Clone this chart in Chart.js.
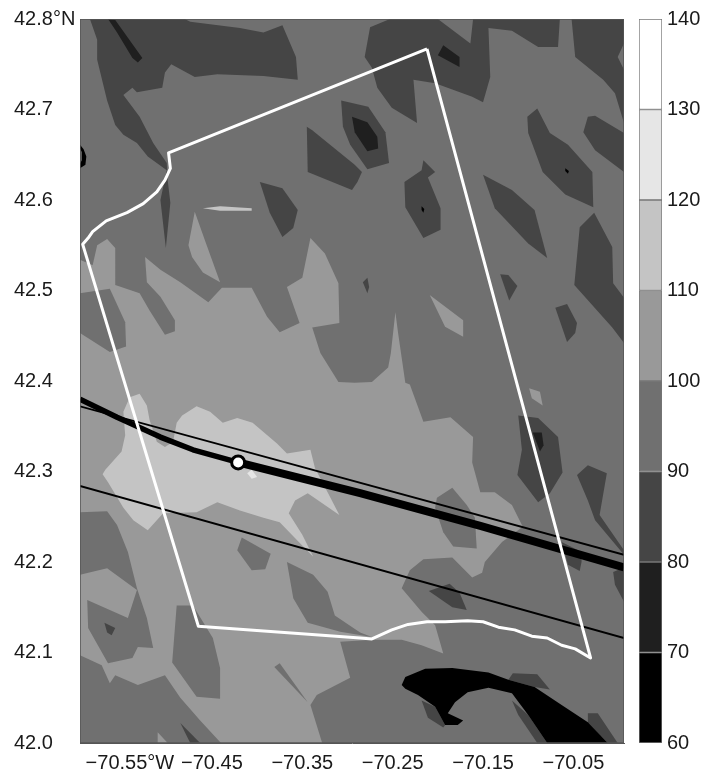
<!DOCTYPE html>
<html>
<head>
<meta charset="utf-8">
<title>Contour map</title>
<script src="https://cdn.jsdelivr.net/npm/chart.js@4/dist/chart.umd.min.js"></script>
<style>
  body { margin: 0; background: #fff; }
  canvas { position: absolute; top: 0; }
  #mapChart { left: 0; }
  #barChart { left: 630px; }
</style>
</head>
<body>
<canvas id="mapChart" width="630" height="771"></canvas>
<canvas id="barChart" width="85" height="771"></canvas>
<script>
// ================= AXES =================
const lonMin = -70.596, lonMax = -69.994;
const latMin = 42.0, latMax = 42.8;
const lonTicks = [-70.55, -70.45, -70.35, -70.25, -70.15, -70.05];
const lonLabels = ["\u00A0\u00A0\u00A0−70.55°W", "−70.45", "−70.35", "−70.25", "−70.15", "−70.05"];
const latTicks = [42.0, 42.1, 42.2, 42.3, 42.4, 42.5, 42.6, 42.7, 42.8];
const latLabels = ["42.0", "42.1", "42.2", "42.3", "42.4", "42.5", "42.6", "42.7", "42.8°N"];

// ================= COLOUR BAR =================
const levels = [60, 70, 80, 90, 100, 110, 120, 130, 140];
const shades = ["#000000", "#1f1f1f", "#454545", "#707070", "#999999", "#c4c4c4", "#e6e6e6", "#ffffff"];

// ================= CONTOUR BANDS (lon, lat) =================
// 100-110
const light100Main = [[-70.596,42.534],[-70.582,42.528],[-70.577,42.550],[-70.566,42.557],[-70.557,42.547],[-70.557,42.506],[-70.530,42.497],[-70.519,42.478],[-70.502,42.451],[-70.491,42.455],[-70.491,42.467],[-70.507,42.493],[-70.522,42.509],[-70.524,42.537],[-70.507,42.523],[-70.485,42.509],[-70.454,42.487],[-70.439,42.503],[-70.406,42.503],[-70.389,42.471],[-70.375,42.454],[-70.353,42.464],[-70.367,42.504],[-70.350,42.514],[-70.341,42.558],[-70.325,42.541],[-70.310,42.508],[-70.309,42.464],[-70.339,42.459],[-70.330,42.431],[-70.310,42.399],[-70.292,42.398],[-70.273,42.399],[-70.255,42.415],[-70.252,42.431],[-70.247,42.476],[-70.244,42.453],[-70.236,42.398],[-70.231,42.396],[-70.216,42.355],[-70.186,42.360],[-70.161,42.338],[-70.162,42.310],[-70.153,42.277],[-70.137,42.277],[-70.118,42.263],[-70.106,42.239],[-70.129,42.222],[-70.148,42.200],[-70.151,42.188],[-70.162,42.183],[-70.184,42.205],[-70.216,42.203],[-70.231,42.191],[-70.240,42.171],[-70.218,42.145],[-70.203,42.130],[-70.194,42.099],[-70.218,42.108],[-70.240,42.114],[-70.273,42.114],[-70.308,42.112],[-70.297,42.072],[-70.334,42.053],[-70.341,42.042],[-70.328,42.000],[-70.440,42.000],[-70.463,42.025],[-70.485,42.050],[-70.502,42.075],[-70.532,42.064],[-70.557,42.075],[-70.563,42.066],[-70.572,42.086],[-70.596,42.097]];
const light100Wedge = [[-70.469,42.587],[-70.458,42.556],[-70.441,42.509],[-70.460,42.520],[-70.472,42.537],[-70.476,42.550]];
const light100East = [[-70.209,42.495],[-70.172,42.467],[-70.172,42.449],[-70.192,42.460]];
const light100Small = [[-70.099,42.392],[-70.087,42.388],[-70.084,42.373],[-70.096,42.381]];
const light100Bottom = [[-70.510,42.012],[-70.499,42.000],[-70.510,42.000]];

// 90-100 islands sitting on the 100-110 area
const gray90West = [[-70.596,42.497],[-70.563,42.502],[-70.546,42.465],[-70.545,42.438],[-70.563,42.432],[-70.596,42.453]];
const gray90SouthWest = [[-70.596,42.255],[-70.566,42.256],[-70.555,42.241],[-70.543,42.211],[-70.533,42.171],[-70.522,42.138],[-70.515,42.105],[-70.532,42.106],[-70.538,42.094],[-70.565,42.088],[-70.587,42.127],[-70.588,42.158],[-70.543,42.138],[-70.533,42.169],[-70.566,42.193],[-70.596,42.186]];
const gray90South = [[-70.489,42.152],[-70.471,42.152],[-70.449,42.116],[-70.441,42.083],[-70.441,42.049],[-70.467,42.051],[-70.494,42.089]];
const gray90Small = [[-70.422,42.213],[-70.417,42.227],[-70.385,42.209],[-70.391,42.192],[-70.406,42.191]];
const gray90Long = [[-70.367,42.200],[-70.338,42.186],[-70.322,42.167],[-70.314,42.141],[-70.286,42.122],[-70.273,42.117],[-70.308,42.123],[-70.344,42.133],[-70.360,42.160]];
const gray90Sliver = [[-70.381,42.084],[-70.375,42.088],[-70.344,42.045]];
const gray90East = [[-70.201,42.271],[-70.184,42.282],[-70.168,42.263],[-70.159,42.249],[-70.157,42.215],[-70.183,42.217],[-70.194,42.233],[-70.203,42.260]];

// 110-120
const light110Main = [[-70.548,42.366],[-70.541,42.382],[-70.530,42.386],[-70.522,42.373],[-70.519,42.357],[-70.511,42.333],[-70.502,42.327],[-70.493,42.333],[-70.489,42.354],[-70.483,42.362],[-70.467,42.372],[-70.452,42.366],[-70.438,42.354],[-70.422,42.359],[-70.405,42.354],[-70.378,42.331],[-70.367,42.320],[-70.341,42.324],[-70.336,42.304],[-70.322,42.277],[-70.309,42.252],[-70.344,42.276],[-70.358,42.268],[-70.365,42.254],[-70.350,42.230],[-70.338,42.206],[-70.349,42.217],[-70.375,42.244],[-70.393,42.249],[-70.419,42.257],[-70.444,42.266],[-70.467,42.255],[-70.504,42.254],[-70.521,42.235],[-70.537,42.246],[-70.548,42.260],[-70.565,42.288],[-70.571,42.297],[-70.568,42.302],[-70.550,42.322],[-70.546,42.340]];
const light110Streak = [[-70.460,42.591],[-70.441,42.593],[-70.406,42.591],[-70.406,42.588],[-70.441,42.588]];
// 120-130
const light120Patch = [[-70.411,42.298],[-70.406,42.302],[-70.400,42.294],[-70.406,42.292]];

// 80-90
const dark80NorthWest = [[-70.585,42.800],[-70.577,42.777],[-70.577,42.755],[-70.566,42.710],[-70.557,42.683],[-70.548,42.672],[-70.533,42.663],[-70.521,42.648],[-70.500,42.633],[-70.507,42.600],[-70.501,42.547],[-70.496,42.597],[-70.499,42.622],[-70.500,42.641],[-70.515,42.663],[-70.530,42.692],[-70.548,42.716],[-70.538,42.724],[-70.533,42.719],[-70.505,42.724],[-70.502,42.741],[-70.495,42.750],[-70.469,42.736],[-70.444,42.739],[-70.393,42.737],[-70.355,42.733],[-70.357,42.758],[-70.372,42.793],[-70.393,42.785],[-70.419,42.790],[-70.474,42.797],[-70.480,42.800]];
const dark80A = [[-70.345,42.681],[-70.339,42.677],[-70.292,42.639],[-70.284,42.631],[-70.289,42.620],[-70.295,42.611],[-70.344,42.631]];
const dark80B = [[-70.397,42.620],[-70.372,42.613],[-70.355,42.589],[-70.360,42.569],[-70.372,42.559],[-70.386,42.586]];
const dark80C = [[-70.307,42.710],[-70.277,42.703],[-70.258,42.675],[-70.254,42.641],[-70.278,42.634],[-70.297,42.661],[-70.305,42.681]];
const dark80North = [[-70.281,42.758],[-70.275,42.791],[-70.253,42.800],[-70.200,42.800],[-70.164,42.773],[-70.161,42.800],[-70.065,42.800],[-70.067,42.769],[-70.089,42.769],[-70.118,42.787],[-70.144,42.790],[-70.142,42.736],[-70.150,42.708],[-70.162,42.714],[-70.184,42.722],[-70.203,42.729],[-70.227,42.733],[-70.223,42.685],[-70.251,42.702],[-70.267,42.724],[-70.273,42.746]];
const dark80NorthEast = [[-70.052,42.800],[-69.994,42.800],[-69.994,42.685],[-70.004,42.718],[-70.017,42.733],[-70.048,42.758]];
const dark80D = [[-70.101,42.692],[-70.090,42.701],[-70.076,42.674],[-70.056,42.661],[-70.029,42.631],[-70.028,42.592],[-70.059,42.606],[-70.084,42.631],[-70.100,42.674]];
const dark80E = [[-70.039,42.675],[-70.034,42.692],[-70.026,42.693],[-69.994,42.674],[-69.994,42.631],[-70.026,42.655]];
const dark80F = [[-70.150,42.628],[-70.118,42.611],[-70.093,42.589],[-70.079,42.536],[-70.100,42.552],[-70.137,42.591]];
const dark80G = [[-70.237,42.620],[-70.218,42.633],[-70.216,42.644],[-70.203,42.631],[-70.211,42.625],[-70.197,42.591],[-70.197,42.567],[-70.216,42.558],[-70.236,42.592]];
const dark80H = [[-70.043,42.570],[-70.027,42.586],[-70.007,42.548],[-70.006,42.508],[-69.994,42.492],[-69.994,42.442],[-70.007,42.459],[-70.049,42.506]];
const dark80I = [[-70.131,42.518],[-70.122,42.517],[-70.112,42.505],[-70.121,42.489]];
const dark80J = [[-70.070,42.481],[-70.057,42.485],[-70.046,42.464],[-70.048,42.453],[-70.057,42.443]];
const dark80K = [[-70.283,42.509],[-70.278,42.514],[-70.276,42.504],[-70.278,42.497]];
const dark80L = [[-70.111,42.362],[-70.089,42.359],[-70.067,42.338],[-70.062,42.299],[-70.076,42.276],[-70.089,42.266],[-70.112,42.296],[-70.107,42.324]];
const dark80M = [[-70.046,42.296],[-70.034,42.307],[-70.013,42.298],[-70.021,42.252],[-69.994,42.213],[-69.994,42.208],[-70.026,42.246],[-70.034,42.268]];
const dark80N = [[-70.006,42.189],[-69.994,42.194],[-69.994,42.156],[-70.004,42.175]];
const dark80O = [[-70.063,42.222],[-70.041,42.211],[-70.041,42.200],[-70.043,42.190],[-70.056,42.197]];
const dark80SouthA = [[-70.569,42.133],[-70.557,42.127],[-70.561,42.119],[-70.566,42.122]];
const dark80SouthB = [[-70.485,42.022],[-70.463,42.000],[-70.474,42.000]];
const dark80SouthC = [[-70.210,42.168],[-70.187,42.176],[-70.176,42.166],[-70.168,42.147],[-70.184,42.150]];
const dark80BlobA = [[-70.117,42.077],[-70.090,42.076],[-70.076,42.059],[-70.093,42.062],[-70.122,42.070]];
const dark80BlobB = [[-70.118,42.047],[-70.100,42.031],[-70.079,42.000],[-70.090,42.000],[-70.111,42.031]];
const dark80BlobC = [[-70.034,42.033],[-70.023,42.033],[-70.001,42.000],[-70.012,42.000],[-70.034,42.023]];
const dark80BlobD = [[-70.218,42.047],[-70.203,42.040],[-70.192,42.020],[-70.194,42.017],[-70.211,42.028]];

// notch of 90-100 at the east edge
const gray90Notch = [[-70.001,42.758],[-69.994,42.773],[-69.994,42.744]];

// 70-80
const dark70Streak = [[-70.565,42.800],[-70.557,42.799],[-70.527,42.757],[-70.532,42.752],[-70.538,42.757],[-70.555,42.785]];
const dark70C = [[-70.295,42.692],[-70.278,42.686],[-70.267,42.670],[-70.266,42.657],[-70.278,42.654],[-70.292,42.675]];
const dark70North = [[-70.200,42.760],[-70.194,42.771],[-70.176,42.758],[-70.176,42.747]];
const dark70L = [[-70.095,42.343],[-70.085,42.343],[-70.083,42.329],[-70.087,42.322]];

// 60-70
const black60Edge = [[-70.596,42.661],[-70.592,42.656],[-70.589,42.648],[-70.590,42.639],[-70.596,42.635],[-70.596,42.640],[-70.594,42.644],[-70.594,42.653],[-70.596,42.657]];
const black60Blob = [[-70.240,42.064],[-70.236,42.073],[-70.214,42.082],[-70.184,42.083],[-70.144,42.078],[-70.122,42.070],[-70.093,42.062],[-70.063,42.042],[-70.034,42.023],[-70.012,42.000],[-70.079,42.000],[-70.100,42.031],[-70.118,42.055],[-70.144,42.061],[-70.167,42.056],[-70.181,42.045],[-70.189,42.033],[-70.172,42.025],[-70.178,42.020],[-70.192,42.020],[-70.203,42.040],[-70.222,42.053],[-70.236,42.060]];
const black60DotD = [[-70.059,42.635],[-70.055,42.632],[-70.056,42.629],[-70.059,42.632]];
const black60DotG = [[-70.218,42.593],[-70.215,42.590],[-70.216,42.586],[-70.218,42.589]];

// ================= OVERLAYS =================
const studyArea = [[-70.212,42.767],[-70.498,42.652],[-70.496,42.635],[-70.502,42.622],[-70.511,42.609],[-70.526,42.596],[-70.544,42.586],[-70.567,42.577],[-70.582,42.565],[-70.587,42.558],[-70.593,42.551],[-70.465,42.129],[-70.286,42.116],[-70.273,42.115],[-70.251,42.125],[-70.233,42.131],[-70.212,42.134],[-70.192,42.134],[-70.167,42.135],[-70.150,42.134],[-70.133,42.128],[-70.115,42.125],[-70.096,42.118],[-70.079,42.116],[-70.063,42.108],[-70.048,42.104],[-70.031,42.094],[-70.212,42.767]];
const laneNorth = [[-70.596,42.372],[-69.994,42.208]];
const laneSouth = [[-70.596,42.284],[-69.994,42.116]];
const trackWest = [[-70.596,42.380],[-70.555,42.360],[-70.507,42.338],[-70.471,42.324],[-70.421,42.310]];
const trackEast = [[-70.421,42.310],[-70.353,42.293],[-70.286,42.276],[-70.153,42.240],[-69.994,42.194]];
const buoy = [[-70.421,42.310]];

// ================= BUILD DATASETS =================
const toPoints = arr => arr.map(p => ({ x: p[0], y: p[1] }));
const shadeOf = level => shades[levels.indexOf(level)];

const bandLayers = [
  [[[lonMin, latMin], [lonMax, latMin], [lonMax, latMax], [lonMin, latMax]], 90],
  [light100Main, 100], [light100Wedge, 100], [light100East, 100], [light100Small, 100], [light100Bottom, 100],
  [gray90West, 90], [gray90SouthWest, 90], [gray90South, 90], [gray90Small, 90], [gray90Long, 90], [gray90Sliver, 90], [gray90East, 90],
  [light110Main, 110], [light110Streak, 110], [light120Patch, 120],
  [dark80NorthWest, 80], [dark80A, 80], [dark80B, 80], [dark80C, 80], [dark80North, 80], [dark80NorthEast, 80],
  [dark80D, 80], [dark80E, 80], [dark80F, 80], [dark80G, 80], [dark80H, 80], [dark80I, 80], [dark80J, 80],
  [dark80K, 80], [dark80L, 80], [dark80M, 80], [dark80N, 80], [dark80O, 80],
  [dark80SouthA, 80], [dark80SouthB, 80], [dark80SouthC, 80],
  [dark80BlobA, 80], [dark80BlobB, 80], [dark80BlobC, 80], [dark80BlobD, 80],
  [gray90Notch, 90],
  [dark70Streak, 70], [dark70C, 70], [dark70North, 70], [dark70L, 70],
  [black60Edge, 60], [black60Blob, 60], [black60DotD, 60], [black60DotG, 60]
];

function lineSet(arr, color, width) {
  return { data: toPoints(arr), showLine: true, pointRadius: 0, fill: false, borderColor: color, borderWidth: width, borderCapStyle: "butt", borderJoinStyle: "round" };
}

const painted = bandLayers.map(([arr, level]) => ({
  data: toPoints(arr),
  showLine: true,
  pointRadius: 0,
  borderWidth: 0,
  fill: "shape",
  backgroundColor: shadeOf(level)
}));

painted.push(lineSet(laneNorth, "#000", 1.8));
painted.push(lineSet(laneSouth, "#000", 1.8));
painted.push(lineSet(trackWest, "#000", 5.5));
painted.push(lineSet(trackEast, "#000", 8));
painted.push(lineSet(studyArea, "#fff", 3));
painted.push({ data: toPoints(buoy), showLine: false, pointRadius: 6.5, pointBorderWidth: 3, pointBackgroundColor: "#fff", pointBorderColor: "#000" });
painted.push(lineSet([[lonMin, latMin], [lonMax, latMin], [lonMax, latMax], [lonMin, latMax], [lonMin, latMin]], "#555", 1.5));

// first dataset is painted last, so flip the list
const mapDatasets = painted.reverse();

const tickFont = { family: "'Liberation Sans', Arial, sans-serif", size: 20 };

// ================= MAP =================
new Chart(document.getElementById("mapChart"), {
  type: "scatter",
  data: { datasets: mapDatasets },
  options: {
    responsive: false,
    animation: false,
    events: [],
    layout: { autoPadding: false, padding: { left: 14, right: 6, top: 19, bottom: 0 } },
    plugins: { legend: { display: false }, tooltip: { enabled: false } },
    scales: {
      x: {
        type: "linear",
        min: lonMin,
        max: lonMax,
        grid: { display: false, drawTicks: false },
        border: { color: "#555" },
        afterBuildTicks: s => { s.ticks = lonTicks.map(v => ({ value: v })); },
        afterFit: s => { s.height = 28; s.paddingLeft = 0; s.paddingRight = 0; },
        ticks: {
          autoSkip: false,
          maxRotation: 0,
          padding: 8,
          color: "#1a1a1a",
          font: tickFont,
          callback: v => lonLabels[lonTicks.indexOf(v)]
        }
      },
      y: {
        type: "linear",
        min: latMin,
        max: latMax,
        grid: { display: false, drawTicks: false },
        border: { color: "#555" },
        afterBuildTicks: s => { s.ticks = latTicks.map(v => ({ value: v })); },
        afterFit: s => { s.width = 66; s.paddingTop = 0; s.paddingBottom = 0; },
        ticks: {
          autoSkip: false,
          crossAlign: "far",
          color: "#1a1a1a",
          font: tickFont,
          callback: v => latLabels[latTicks.indexOf(v)]
        }
      }
    }
  }
});

// ================= COLOUR BAR =================
new Chart(document.getElementById("barChart"), {
  type: "bar",
  data: {
    labels: [""],
    datasets: shades.map((c, i) => ({
      data: [[levels[i], levels[i + 1]]],
      backgroundColor: c,
      borderColor: "#777",
      borderWidth: 1,
      borderSkipped: false,
      grouped: false,
      barPercentage: 1,
      categoryPercentage: 1
    }))
  },
  options: {
    responsive: false,
    animation: false,
    events: [],
    layout: { padding: { left: 9, right: 0, top: 19, bottom: 28 } },
    plugins: { legend: { display: false }, tooltip: { enabled: false } },
    scales: {
      x: { display: false },
      y: {
        position: "right",
        min: 60,
        max: 140,
        grid: { display: false, drawTicks: false },
        border: { display: false },
        afterFit: s => { s.width = 53; s.paddingTop = 0; s.paddingBottom = 0; },
        ticks: { stepSize: 10, padding: 5, color: "#1a1a1a", font: tickFont }
      }
    }
  }
});
</script>
</body>
</html>
